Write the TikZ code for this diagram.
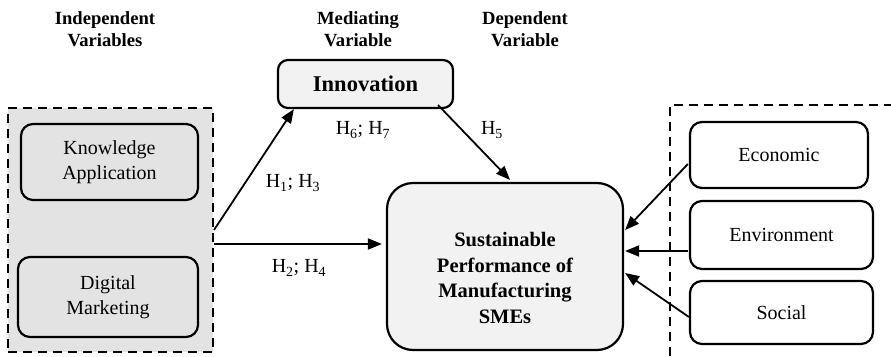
\documentclass[tikz,border=0pt]{standalone}
\usepackage{fontspec}
\setmainfont{Liberation Serif}
\usetikzlibrary{arrows.meta,calc}
\definecolor{groupgray}{RGB}{227,227,227}
\definecolor{lightbox}{RGB}{241,242,241}
\tikzset{
  varbox/.style={draw=black, line width=2.2pt, rounded corners=12pt, align=center,
    font=\fontsize{20}{25}\selectfont, inner sep=0pt},
  groupline/.style={draw=black, line width=2pt, dash pattern=on 9pt off 6pt},
  link/.style={draw=black, line width=1.8pt, -{Triangle[length=14pt,width=11pt]}},
  hyp/.style={font=\fontsize{20}{24}\selectfont, inner sep=0pt},
  header/.style={font=\fontsize{18.6}{22}\selectfont\bfseries, align=center, inner sep=0pt}
}
\begin{document}
\begin{tikzpicture}[x=1pt,y=-1pt]
\useasboundingbox (0,0) rectangle (891,356);

% column headings
\node[header] (hind) at (105,29) {Independent\\Variables};
\node[header] (hmed) at (358,29) {Mediating\\Variable};
\node[header] (hdep) at (525,29) {Dependent\\Variable};

% independent variables group
\node[groupline, fill=groupgray, minimum width=205pt, minimum height=244pt, inner sep=0pt]
  (grp) at (110.5,230) {};
\node[varbox, fill=groupgray, minimum width=177pt, minimum height=76pt] (ka) at (109.5,162)
  {Knowledge\\Application};
\node[varbox, fill=groupgray, minimum width=180pt, minimum height=80pt] (dm) at (108,297)
  {Digital\\Marketing};

% mediator
\node[varbox, fill=lightbox, rounded corners=10pt, minimum width=175pt, minimum height=48pt,
  font=\fontsize{22.5}{27}\selectfont\bfseries] (inn) at (365.5,84) {Innovation};

% dependent variable
\node[varbox, fill=lightbox, rounded corners=26pt, minimum width=236pt, minimum height=167pt]
  (sp) at (505,266.5) {};
\node[align=center, inner sep=0pt, font=\fontsize{20.5}{25.5}\selectfont\bfseries]
  (sptext) at (505,278) {Sustainable\\Performance of\\Manufacturing\\SMEs};

% sustainability dimensions group (open frame)
\coordinate (fr1) at (670,356);
\coordinate (fr2) at (670,105);
\coordinate (fr3) at (891,105);
\draw[groupline] (fr1) -- (fr2) -- (fr3);
\node[varbox, fill=white, minimum width=178pt, minimum height=66pt] (eco) at (779,155) {Economic};
\node[varbox, fill=white, minimum width=183pt, minimum height=68pt] (env) at (781.5,235) {Environment};
\node[varbox, fill=white, minimum width=183pt, minimum height=63pt] (soc) at (781.5,312.5) {Social};

% paths
\draw[link] (grp.east) -- ($(inn.south west)+(17,0)$);
\draw[link] ($(grp.east)+(0,14)$) -- ($(sp.west)+(-4,-22.5)$);
\draw[link] ($(inn.south east)+(-16,-4)$) -- ($(sp.north)+(5,-2)$);
\draw[link] ($(eco.west)+(-1,9)$) -- ($(sp.east)+(1,-36.5)$);
\draw[link] ($(env.west)+(-1,16)$) -- ($(sp.east)+(1,-15.5)$);
\draw[link] ($(soc.west)+(0,4.5)$) -- ($(sp.east)+(1,6.5)$);

% hypothesis labels
\node[hyp] (h67) at (363,130) {H\textsubscript{6}; H\textsubscript{7}};
\node[hyp] (h5) at (492,130) {H\textsubscript{5}};
\node[hyp] (h13) at (293,183) {H\textsubscript{1}; H\textsubscript{3}};
\node[hyp] (h24) at (299,268) {H\textsubscript{2}; H\textsubscript{4}};
\end{tikzpicture}
\end{document}
